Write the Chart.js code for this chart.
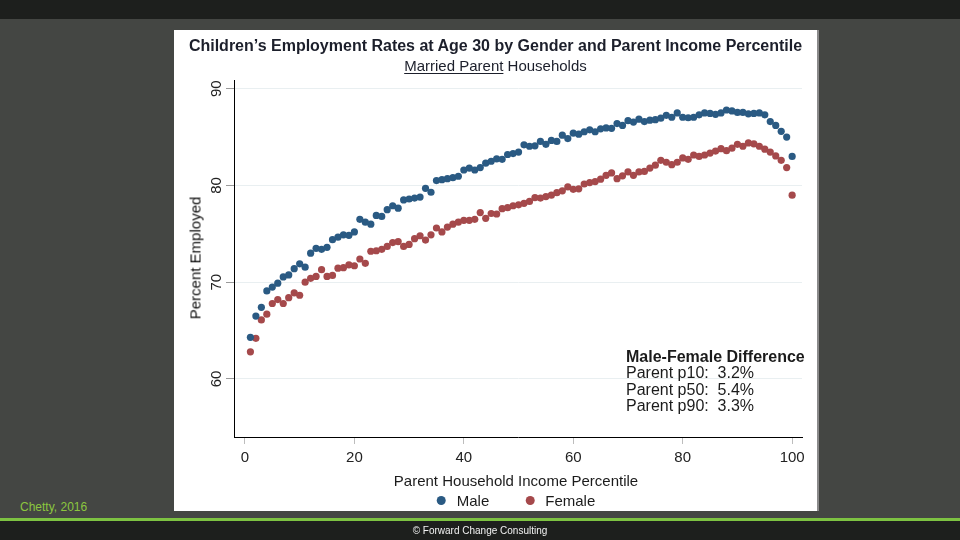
<!DOCTYPE html>
<html>
<head>
<meta charset="utf-8">
<script src="https://cdn.jsdelivr.net/npm/chart.js@4"></script>
<style>
  html, body { margin: 0; padding: 0; }
  body {
    width: 960px; height: 540px; position: relative; overflow: hidden;
    background: #444643;
    font-family: "Liberation Sans", Arial, sans-serif;
  }
  #topbar { position: absolute; left: 0; top: 0; width: 960px; height: 19px; background: #1d1f1d; }
  #panel { position: absolute; left: 174px; top: 30px; width: 643px; height: 481px; background: #fff;
           box-shadow: 2px 0 0 #8a8a8a; }
  #panel canvas { position: absolute; left: 0; top: 0; }
  #greenline { position: absolute; left: 0; top: 518px; width: 960px; height: 3px; background: #7dc242; }
  #footer { position: absolute; left: 0; top: 521px; width: 960px; height: 19px; background: #1d1f1d; }
  .txt { position: absolute; white-space: nowrap; color: #1b1b1b; line-height: 1; }
  #title { left: 174px; width: 643px; top: 38px; text-align: center; font-weight: bold; font-size: 16px; color: #1c1f2b; }
  #subtitle { left: 174px; width: 643px; top: 58px; text-align: center; font-size: 15px; color: #1c1f2b; }
  #subtitle u { text-underline-offset: 2px; }
  #ytitle { left: 195px; top: 258px; font-size: 15px; color: #111; transform: translate(-50%, -50%) rotate(-90deg); }
  #xtitle { left: 516px; top: 473px; transform: translateX(-50%); font-size: 15px; }
  #legend { left: 516px; top: 493px; transform: translateX(-50%); font-size: 15px; }
  #legend span.dot { display: inline-block; width: 9px; height: 9px; border-radius: 50%; margin-right: 11px; vertical-align: 1px; }
  #note { left: 626px; top: 349px; font-size: 16px; line-height: 16.4px; }
  #note b { font-weight: bold; }
  #source { left: 20px; top: 501px; font-size: 12px; color: #8cc63f; }
  #copy { left: 480px; top: 526px; transform: translateX(-50%); font-size: 10px; color: #f2f2f2; }
</style>
</head>
<body>
<div id="topbar"></div>
<div id="panel"><canvas id="chart" width="643" height="481"></canvas></div>
<div id="greenline"></div>
<div id="footer"></div>

<div class="txt" id="title">Children’s Employment Rates at Age 30 by Gender and Parent Income Percentile</div>
<div class="txt" id="subtitle"><u>Married Parent</u> Households</div>
<div class="txt" id="ytitle">Percent Employed</div>
<div class="txt" id="xtitle">Parent Household Income Percentile</div>
<div class="txt" id="legend"></div>
<div class="txt" id="note"><b>Male-Female Difference</b><br>Parent p10:&nbsp; 3.2%<br>Parent p50:&nbsp; 5.4%<br>Parent p90:&nbsp; 3.3%</div>
<div class="txt" id="source">Chetty, 2016</div>
<div class="txt" id="copy">© Forward Change Consulting</div>

<script>
// parent income percentile 1..100
const percentiles = [
  1,2,3,4,5,6,7,8,9,10,11,12,13,14,15,16,17,18,19,20,
  21,22,23,24,25,26,27,28,29,30,31,32,33,34,35,36,37,38,39,40,
  41,42,43,44,45,46,47,48,49,50,51,52,53,54,55,56,57,58,59,60,
  61,62,63,64,65,66,67,68,69,70,71,72,73,74,75,76,77,78,79,80,
  81,82,83,84,85,86,87,88,89,90,91,92,93,94,95,96,97,98,99,100
];

const male = [
  64.3,66.5,67.4,69.1,69.5,69.9,70.55,70.75,71.4,71.9,71.55,73.0,73.5,73.4,73.6,74.4,74.65,74.9,74.85,75.2,
  76.5,76.2,76.0,76.9,76.8,77.5,77.9,77.65,78.5,78.6,78.7,78.8,79.7,79.3,80.5,80.6,80.7,80.8,80.95,81.6,
  81.8,81.6,81.85,82.3,82.5,82.75,82.7,83.2,83.3,83.45,84.2,84.05,84.1,84.55,84.25,84.65,84.55,85.2,84.85,85.4,
  85.3,85.55,85.75,85.55,85.85,85.95,85.9,86.4,86.2,86.7,86.55,86.85,86.6,86.75,86.8,86.95,87.25,87.05,87.5,87.05,
  87.0,87.05,87.3,87.5,87.45,87.35,87.5,87.8,87.7,87.55,87.55,87.4,87.45,87.5,87.3,86.6,86.2,85.6,85.0,83.0
];

const female = [
  62.8,64.2,66.1,66.7,67.8,68.2,67.8,68.4,68.9,68.65,70.0,70.4,70.6,71.3,70.6,70.7,71.45,71.5,71.8,71.7,
  72.4,71.95,73.2,73.25,73.4,73.7,74.1,74.2,73.7,73.9,74.5,74.8,74.35,74.9,75.6,75.2,75.7,76.0,76.2,76.4,
  76.4,76.5,77.2,76.6,77.1,77.05,77.6,77.7,77.9,78.0,78.15,78.35,78.75,78.7,78.85,79.0,79.25,79.45,79.85,79.6,
  79.65,80.15,80.3,80.4,80.65,81.05,81.3,80.7,81.0,81.4,81.05,81.4,81.45,81.8,82.1,82.6,82.4,82.15,82.4,82.85,
  82.7,83.15,83.0,83.15,83.35,83.55,83.8,83.6,83.85,84.25,84.05,84.4,84.3,84.05,83.75,83.45,83.05,82.6,81.85,79.0
];

const xTicks = [0, 20, 40, 60, 80, 100];
const yTicks = [60, 70, 80, 90];

const seriesNames = ["Male", "Female"];
const seriesColors = ["#2a5a83", "#a5494b"];

Chart.defaults.font.family = "'Liberation Sans', Arial, sans-serif";

// y tick labels are rotated in the original, so draw them here
const rotatedYLabels = {
  id: "rotatedYLabels",
  afterDraw(chart) {
    const ctx = chart.ctx;
    const y = chart.scales.y;
    ctx.save();
    ctx.font = "15px 'Liberation Sans', Arial, sans-serif";
    ctx.fillStyle = "#222";
    ctx.textAlign = "center";
    ctx.textBaseline = "middle";
    yTicks.forEach(v => {
      const py = y.getPixelForValue(v);
      ctx.save();
      ctx.translate(chart.chartArea.left - 17, py);
      ctx.rotate(-Math.PI / 2);
      ctx.fillText(String(v), 0, 0);
      ctx.restore();
    });
    ctx.restore();
  }
};

function toPoints(vals) {
  return percentiles.map((p, i) => ({ x: p, y: vals[i] }));
}

new Chart(document.getElementById("chart"), {
  type: "scatter",
  data: {
    datasets: [male, female].map((vals, i) => ({
      label: seriesNames[i],
      data: toPoints(vals),
      backgroundColor: seriesColors[i],
      borderWidth: 0,
      pointRadius: 3.6,
      pointHoverRadius: 3.6
    }))
  },
  options: {
    responsive: false,
    animation: false,
    layout: { padding: { top: 50, right: 15, left: 0, bottom: 0 } },
    plugins: { legend: { display: false }, tooltip: { enabled: false } },
    scales: {
      x: {
        type: "linear",
        min: -2,
        max: 101.8,
        afterBuildTicks: s => { s.ticks = xTicks.map(v => ({ value: v })); },
        afterFit: s => { s.height = 74; },
        grid: { drawOnChartArea: false, tickLength: 7, tickColor: "#bdbdbd" },
        border: { color: "#000", width: 1 },
        ticks: { font: { size: 15 }, color: "#222", padding: 5, maxRotation: 0 }
      },
      y: {
        type: "linear",
        min: 54,
        max: 90.9,
        afterBuildTicks: s => { s.ticks = yTicks.map(v => ({ value: v })); },
        afterFit: s => { s.width = 60; },
        grid: { color: "#e9eff1", tickLength: 8, tickColor: "#9a9a9a" },
        border: { color: "#000", width: 1 },
        ticks: { display: false }
      }
    }
  },
  plugins: [rotatedYLabels]
});

// legend
document.getElementById("legend").innerHTML = seriesNames.map((n, i) =>
  `<span class="dot" style="background:${seriesColors[i]}"></span>${n}`
).join('<span style="display:inline-block;width:36px"></span>');
</script>
</body>
</html>
